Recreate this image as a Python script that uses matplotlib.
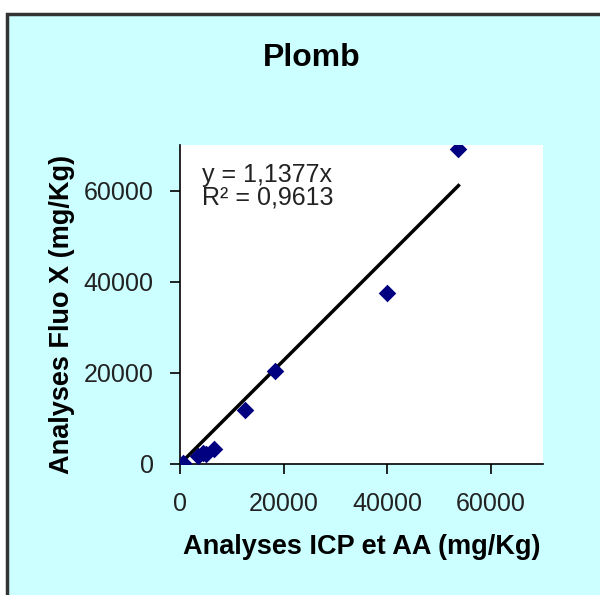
import matplotlib.pyplot as plt
from matplotlib.patches import Rectangle

plt.rcParams['font.family'] = ['Liberation Sans', 'DejaVu Sans']

# Analyses ICP et AA vs Fluo X (mg/Kg)
icp = [600, 3500, 4500, 5000, 6500, 12500, 18300, 40000, 53700]
fluo = [300, 1800, 2500, 2200, 3300, 11900, 20300, 37500, 69200]
slope = 1.1377
r2 = 0.9613
ticks = [0, 20000, 40000, 60000]

fig = plt.figure(figsize=(6, 5.95), dpi=100)
fig.patch.set_facecolor('white')
# chart area frame
fig.patches.append(Rectangle((7 / 600, -0.1), 1.2, (595 - 14) / 595 + 0.1,
                             transform=fig.transFigure, facecolor='#CCFFFF',
                             edgecolor='#333333', linewidth=2.5, zorder=-5))

ax = fig.add_axes([0.30, 0.2202, 0.605, 0.5361])
ax.set_facecolor('white')

ax.scatter(icp, fluo, marker='D', s=80, color='#000080', zorder=3, linewidths=0)
xl = [0, max(icp)]
ax.plot(xl, [slope * v for v in xl], color='black', lw=2.5, zorder=2)

ax.set_xlim(0, 70000)
ax.set_ylim(0, 70000)
ax.set_xticks(ticks)
ax.set_yticks(ticks)
ax.tick_params(direction='out', length=7, width=1.2, labelsize=18, colors='black')
ax.tick_params(axis='x', pad=13)
ax.tick_params(axis='y', pad=12)
for lab in ax.get_xticklabels() + ax.get_yticklabels():
    lab.set_color('#222222')
for s in ['top', 'right']:
    ax.spines[s].set_visible(False)
for s in ['left', 'bottom']:
    ax.spines[s].set_linewidth(1.2)

ax.text(0.06, 0.945, 'y = 1,1377x\nR² = {}'.format(str(r2).replace('.', ',')),
        transform=ax.transAxes, fontsize=18, va='top', ha='left',
        color='#222222', linespacing=0.95)

ax.set_xlabel('Analyses ICP et AA (mg/Kg)', fontsize=19.5, fontweight='bold', labelpad=13)
ax.set_ylabel('Analyses Fluo X (mg/Kg)', fontsize=19.5, fontweight='bold')
ax.yaxis.set_label_coords(-0.29, 0.47)
fig.text(0.52, 0.902, 'Plomb', fontsize=23, fontweight='bold', ha='center', va='center')

fig.savefig('out.png', dpi=100, facecolor=fig.get_facecolor())
